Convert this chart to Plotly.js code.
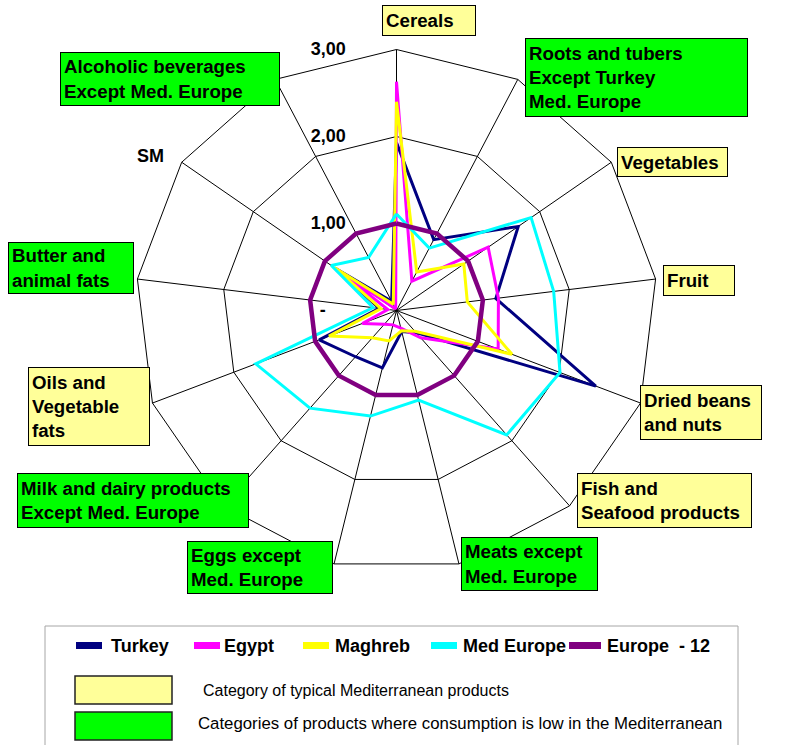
<!DOCTYPE html>
<html>
<head>
<meta charset="utf-8">
<script src="https://cdn.plot.ly/plotly-3.0.1.min.js"></script>
<style>
  html, body { margin: 0; padding: 0; background: #ffffff; }
  #chart { width: 790px; height: 745px; }
</style>
</head>
<body>
<div id="chart"></div>
<script>
// Food consumption relative to the EU-12 average (Europe - 12 = 1)
const categories = [
  'Cereals', 'Roots and tubers', 'Vegetables', 'Fruit', 'Dried beans and nuts',
  'Fish and Seafood products', 'Meats', 'Eggs', 'Milk and dairy products',
  'Oils and Vegetable fats', 'Butter and animal fats', 'SM', 'Alcoholic beverages'
];
const categoryLabels = [
  'Cereals', 'Roots and tubers<br>Except Turkey<br>Med. Europe', 'Vegetables', 'Fruit',
  'Dried beans<br>and nuts', 'Fish and<br>Seafood products', 'Meats except<br>Med. Europe',
  'Eggs except<br>Med. Europe', 'Milk and dairy products<br>Except Med. Europe',
  'Oils and<br>Vegetable<br>fats', 'Butter and<br>animal fats', 'SM',
  'Alcoholic beverages<br>Except Med. Europe'
];
// 'typical' = typical Mediterranean product, 'low' = low Mediterranean consumption
const categoryGroup = [
  'typical', 'low', 'typical', 'typical', 'typical', 'typical', 'low',
  'low', 'low', 'typical', 'low', '', 'low'
];

const seriesNames = ['Turkey', 'Egypt', 'Maghreb', 'Med Europe', 'Europe\u00a0\u00a0- 12'];
const turkey    = [1.93, 0.92, 1.70, 1.15, 2.45, 0.34, 0.25, 0.68, 0.71, 0.95, 0.20, 0.85, 0.12];
const egypt     = [2.63, 0.38, 1.28, 1.18, 1.25, 0.42, 0.21, 0.17, 0.21, 0.42, 0.10, 0.84, 0.02];
const maghreb   = [2.40, 0.50, 0.94, 0.82, 1.42, 0.32, 0.24, 0.36, 0.42, 0.83, 0.18, 0.87, 0.08];
const medEurope = [1.11, 0.81, 1.88, 1.82, 2.01, 1.91, 1.06, 1.25, 1.50, 1.73, 0.27, 0.91, 0.69];
const europe12  = [1.00, 1.00, 1.00, 1.00, 1.00, 1.00, 1.00, 1.00, 1.00, 1.00, 1.00, 1.00, 1.00];

const radialTickValues = [0, 1, 2, 3];
const radialTickText = ['-\u00a0\u00a0\u00a0\u00a0', '1,00', '2,00', '3,00'];

const groupTexts = [
  'Category of typical Mediterranean products',
  'Categories of products where consumption is low in the Mediterranean'
];

// ---- styling ----
const seriesValues = [turkey, egypt, maghreb, medEurope, europe12];
const seriesColors = ['#000080', '#FF00FF', '#FFFF00', '#00FFFF', '#800080'];
const seriesWidths = [3, 3, 3, 3, 4.5];
const groupColors = { typical: '#FFFF99', low: '#00FF00' };

const W = 790, H = 745;
const px = x => x / W;
const py = y => 1 - y / H;
const FONT = 'Liberation Sans, Arial, Helvetica, sans-serif';
const boldFont = { family: FONT, size: 18, color: '#000000', weight: 'bold' };
const boxFont = { family: FONT, size: 18.7, color: '#000000', weight: 'bold' };

// closed outlines: repeat the first point at the end
const traces = seriesValues.map((vals, i) => ({
  type: 'scatterpolar',
  mode: 'lines',
  name: seriesNames[i],
  r: vals.concat([vals[0]]),
  theta: categories.concat([categories[0]]),
  line: { color: seriesColors[i], width: seriesWidths[i] },
  showlegend: false,
  hoverinfo: 'skip'
}));

// boxed category captions around the web: [left, top, right, bottom] in px
const boxFrames = [
  [382, 5, 476, 36], [525, 38, 748, 117], [617, 147, 728, 177], [663, 265, 735, 296],
  [640, 385, 762, 440], [577, 473, 752, 528], [461, 537, 598, 591], [187, 541, 333, 594],
  [17, 473, 249, 528], [28, 367, 150, 446], [8, 242, 134, 294], null, [60, 52, 280, 106]
];
const plainLabelPos = [150, 156];
const BW = 1, BP = 3;

const annotations = [];
const shapes = [];

categoryLabels.forEach((txt, i) => {
  const f = boxFrames[i];
  if (!f) {
    annotations.push({
      xref: 'paper', yref: 'paper', x: px(plainLabelPos[0]), y: py(plainLabelPos[1]),
      xanchor: 'center', yanchor: 'middle', text: txt, showarrow: false, font: boldFont
    });
    return;
  }
  const [L, T, R, B] = f;
  annotations.push({
    xref: 'paper', yref: 'paper', x: px(L), y: py(T),
    xanchor: 'left', yanchor: 'top',
    width: (R - L) - 2 * (BW + BP), height: (B - T) - 2 * (BW + BP),
    text: txt, showarrow: false, align: 'left', valign: 'middle',
    bgcolor: groupColors[categoryGroup[i]], bordercolor: '#000000',
    borderwidth: BW, borderpad: BP, font: boxFont
  });
});

// legend panel
shapes.push({
  type: 'rect', xref: 'paper', yref: 'paper',
  x0: px(45), x1: px(738), y0: py(626), y1: py(770),
  line: { color: '#a6a6a6', width: 1 }, fillcolor: 'rgba(0,0,0,0)'
});
const legendSwatchX = [[76, 102], [194, 220], [303, 329], [431, 457], [569, 601]];
const legendTextX = [109, 222, 333, 461, 605];
const legendRowY = 646;
seriesNames.forEach((name, i) => {
  shapes.push({
    type: 'rect', xref: 'paper', yref: 'paper',
    x0: px(legendSwatchX[i][0]), x1: px(legendSwatchX[i][1]),
    y0: py(legendRowY - 4), y1: py(legendRowY + 3),
    line: { width: 0 }, fillcolor: seriesColors[i]
  });
  annotations.push({
    xref: 'paper', yref: 'paper', x: px(legendTextX[i]), y: py(legendRowY),
    xanchor: 'left', yanchor: 'middle', text: name, showarrow: false, font: boldFont
  });
});

// colour key for the caption boxes
const keyBoxes = [[75, 676, 172, 704], [75, 712, 172, 740]];
const keyTextPos = [[201, 690], [196, 723]];
const keyTextSize = [16, 16.8];
['typical', 'low'].forEach((g, i) => {
  const [L, T, R, B] = keyBoxes[i];
  shapes.push({
    type: 'rect', xref: 'paper', yref: 'paper',
    x0: px(L), x1: px(R), y0: py(B), y1: py(T),
    line: { color: '#222222', width: 1.5 }, fillcolor: groupColors[g]
  });
  annotations.push({
    xref: 'paper', yref: 'paper', x: px(keyTextPos[i][0]), y: py(keyTextPos[i][1]),
    xanchor: 'left', yanchor: 'middle', text: groupTexts[i], showarrow: false,
    font: { family: FONT, size: keyTextSize[i], color: '#000000' }
  });
});

const layout = {
  width: W, height: H,
  margin: { l: 0, r: 0, t: 0, b: 0 },
  paper_bgcolor: '#ffffff',
  showlegend: false,
  polar: {
    domain: { x: [px(135.5), px(657.5)], y: [py(571.5), py(49.5)] },
    bgcolor: '#ffffff',
    gridshape: 'linear',
    angularaxis: {
      type: 'category', categoryorder: 'array', categoryarray: categories,
      rotation: 90, direction: 'clockwise',
      showticklabels: false, ticks: '',
      showgrid: true, gridcolor: '#000000', gridwidth: 1,
      showline: true, linecolor: '#000000', linewidth: 1
    },
    radialaxis: {
      range: [0, 3], angle: 90, side: 'counterclockwise',
      tickvals: radialTickValues, ticktext: radialTickText, tickangle: 90,
      showline: false, showgrid: true, gridcolor: '#000000', gridwidth: 1,
      ticks: 'outside', ticklen: 44, tickcolor: 'rgba(0,0,0,0)',
      tickfont: { family: FONT, size: 18, color: '#000000', weight: 'bold' }
    }
  },
  shapes: shapes,
  annotations: annotations
};

Plotly.newPlot('chart', traces, layout, { displayModeBar: false, staticPlot: true });
</script>
</body>
</html>
